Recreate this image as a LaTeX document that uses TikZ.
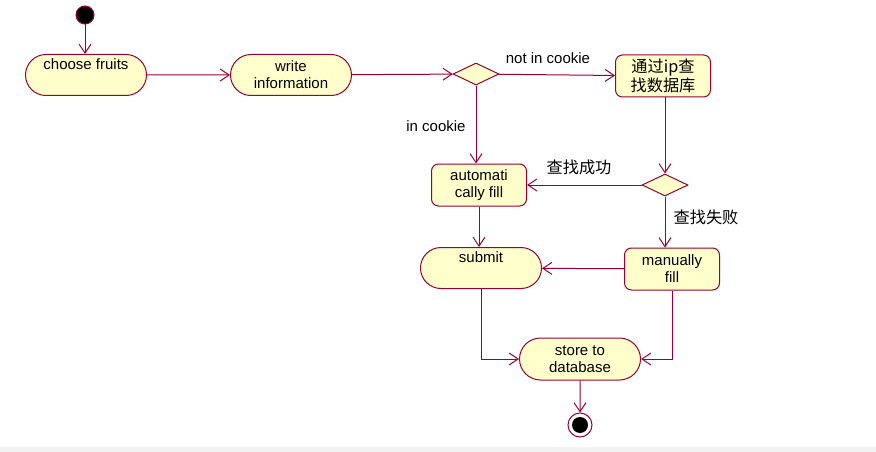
\documentclass[tikz,border=0pt]{standalone}
\usepackage{fontspec}
\setmainfont{Liberation Sans}
\newfontfamily\cjk{Noto Sans CJK SC}[Scale=1.08]
\usetikzlibrary{shapes.geometric,shapes.misc,arrows.meta}

\definecolor{umlline}{RGB}{153,0,51}
\definecolor{umlfill}{RGB}{255,255,204}

\tikzset{
  activity/.style={draw=umlline, fill=umlfill, line width=1pt, rounded rectangle,
    minimum width=121pt, minimum height=41pt, inner sep=0pt, align=center,
    font=\fontsize{15}{17}\selectfont},
  actbox/.style={draw=umlline, fill=umlfill, line width=1pt, rounded corners=7pt,
    minimum width=95pt, minimum height=42pt, inner sep=0pt, align=center,
    font=\fontsize{15}{17}\selectfont},
  decision/.style={draw=umlline, fill=umlfill, line width=1pt, diamond,
    minimum width=46pt, minimum height=22pt, inner sep=0pt},
  flow/.style={draw=umlline, line width=1pt, -{Straight Barb[length=9pt,width=12pt]}},
  guard/.style={font=\fontsize{15}{17}\selectfont, inner sep=0pt}
}

\begin{document}
\begin{tikzpicture}[x=1pt,y=-1pt]
\useasboundingbox (0,0) rectangle (876,452);
\fill[black!5] (0,447) rectangle (876,452);

% Start and end
\node[circle, draw=umlline, fill=black, line width=1pt, minimum size=18pt, inner sep=0pt] (start) at (85,15) {};
\node[circle, draw=umlline, fill=white, line width=1pt, minimum size=24pt, inner sep=0pt] (final) at (580,425) {};
\fill (final) circle (8pt);

% Activities
\node[activity] (choose) at (86,75) {choose fruits\\\strut};
\node[activity] (write) at (291,75) {write\\information};
\node[actbox] (lookup) at (663,76) {\cjk 通过ip查\\\cjk 找数据库};
\node[actbox] (auto) at (479,185) {automati\\cally fill};
\node[activity] (submit) at (481,268) {submit\\\strut};
\node[actbox] (manual) at (672,269) {manually\\fill};
\node[activity, minimum height=42pt] (store) at (580,359) {store to\\database};

% Decisions
\node[decision] (dec1) at (476,74) {};
\node[decision] (dec2) at (665,185) {};

% Guards
\node[guard] (notin) at (548,58) {not in cookie};
\node[guard] (incookie) at (436,126) {in cookie};
\node[guard] (found) at (579,167) {\cjk 查找成功};
\node[guard] (notfound) at (706,217) {\cjk 查找失败};

% Flows
\draw[flow] (start) -- (start |- choose.north);
\draw[flow] (choose) -- (write);
\draw[flow] (write) -- (dec1);
\draw[flow] (dec1) -- (lookup);
\draw[flow] (dec1) -- (dec1 |- auto.north);
\draw[flow] (dec2 |- lookup.south) -- (dec2);
\draw[flow] (dec2) -- (auto);
\draw[flow] (dec2) -- (dec2 |- manual.north);
\draw[flow] (auto) -- (auto |- submit.north);
\draw[flow] (manual) -- (submit);
\draw[flow] (submit.south) |- (store.west);
\draw[flow] (manual.south) |- (store.east);
\draw[flow] (store) -- (final);

\end{tikzpicture}
\end{document}
